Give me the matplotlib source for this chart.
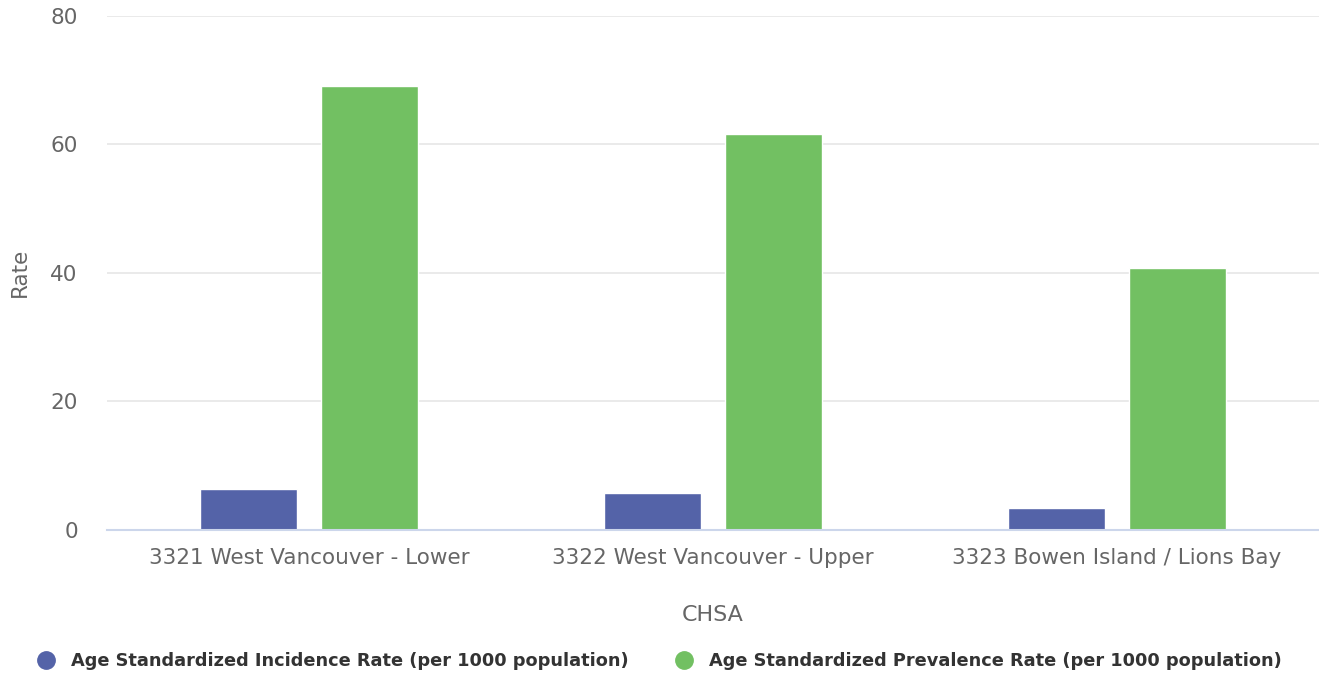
import matplotlib
matplotlib.use("Agg")
import matplotlib.pyplot as plt
from matplotlib.lines import Line2D
import numpy as np

categories = ["3321 West Vancouver - Lower", "3322 West Vancouver - Upper", "3323 Bowen Island / Lions Bay"]
incidence = [6.3, 5.7, 3.3]
prevalence = [69.0, 61.6, 40.7]
series_names = ["Age Standardized Incidence Rate (per 1000 population)",
                "Age Standardized Prevalence Rate (per 1000 population)"]
yticks = [0, 20, 40, 60, 80]

c_blue = "#5463a8"
c_green = "#72c062"

plt.rcParams['font.family'] = ['DejaVu Sans']
fig = plt.figure(figsize=(13.19, 6.75), dpi=100)
ax = fig.add_axes([0.0811, 0.2153, 0.9189, 0.7614])

x = np.arange(len(categories))
w = 0.24
off = 0.149
ax.bar(x - off, incidence, width=w, color=c_blue, edgecolor="white", linewidth=1, zorder=3)
ax.bar(x + off, prevalence, width=w, color=c_green, edgecolor="white", linewidth=1, zorder=3)

ax.set_xlim(-0.5, 2.5)
ax.set_ylim(0, 80)
ax.set_yticks(yticks)
ax.set_yticklabels([str(v) for v in yticks])
ax.set_xticks(x)
ax.set_xticklabels(categories)
ax.grid(axis="y", color="#e6e6e6", linewidth=1.2, zorder=0)
for s in ["top", "right", "left"]:
    ax.spines[s].set_visible(False)
ax.spines["bottom"].set_color("#ccd6eb")
ax.spines["bottom"].set_linewidth(1.5)
ax.spines["bottom"].set_zorder(4)
ax.tick_params(axis="both", length=0, labelsize=15.5, labelcolor="#666666")
ax.tick_params(axis="x", pad=13)
ax.tick_params(axis="y", pad=21)
ax.set_ylabel("Rate", fontsize=15.5, color="#666666", labelpad=15)
ax.set_xlabel("CHSA", fontsize=16, color="#666666", labelpad=27)

handles = [Line2D([0], [0], marker="o", linestyle="", markersize=12.5, markerfacecolor=c, markeredgecolor=c)
           for c in (c_blue, c_green)]
fig.legend(handles, series_names, loc="center", bbox_to_anchor=(0.5, 0.02), ncol=2, frameon=False,
           prop={"size": 12.8, "weight": "bold"}, labelcolor="#333333", columnspacing=2.6,
           handletextpad=0.9, handlelength=1.0)

fig.savefig("out.png", dpi=100)
